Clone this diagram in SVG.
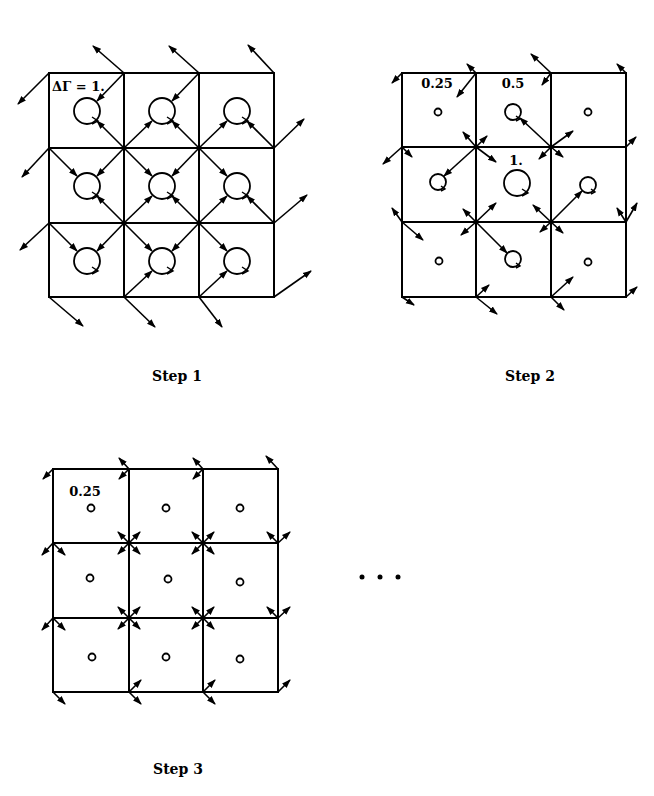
<svg xmlns="http://www.w3.org/2000/svg" width="654" height="796" viewBox="0 0 654 796">
<style>
.g{fill:none;stroke:#000;stroke-width:2}
.a line{stroke:#000;stroke-width:1.6;marker-end:url(#h)}
.c{fill:none;stroke:#000;stroke-width:1.8}
.t{font-family:"DejaVu Serif","Liberation Serif",serif;font-weight:bold;font-size:13px;fill:#000}
.s{font-family:"DejaVu Serif","Liberation Serif",serif;font-weight:bold;font-size:14px;fill:#000;text-anchor:middle}
</style>
<defs>
<marker id="h" markerUnits="userSpaceOnUse" markerWidth="10" markerHeight="8" refX="8" refY="4" orient="auto"><path d="M0,0.8 L9,4 L0,7.2 Z" fill="#000"/></marker>
</defs>
<rect width="654" height="796" fill="#fff"/>

<g id="step1">
<path class="g" d="M49,73H274V297H49Z M124,73V297 M199,73V297 M49,148H274 M49,223H274"/>
<g class="c">
<circle cx="87" cy="111" r="13"/><circle cx="162" cy="111" r="13"/><circle cx="237" cy="111" r="13"/>
<circle cx="87" cy="186" r="13"/><circle cx="162" cy="186" r="13"/><circle cx="237" cy="186" r="13"/>
<circle cx="87" cy="261" r="13"/><circle cx="162" cy="261" r="13"/><circle cx="237" cy="261" r="13"/>
<path stroke-width="1.4" d="M92,117l6,4l-6,3M167,117l6,4l-6,3M242,117l6,4l-6,3M92,192l6,4l-6,3M167,192l6,4l-6,3M242,192l6,4l-6,3M92,267l6,4l-6,3M167,267l6,4l-6,3M242,267l6,4l-6,3"/>
</g>
<text class="t" x="52" y="91">ΔΓ = 1.</text>
<g class="a">
<line x1="124" y1="73" x2="93" y2="46"/><line x1="199" y1="73" x2="169" y2="46"/><line x1="274" y1="73" x2="248" y2="45"/><line x1="49" y1="73" x2="18" y2="104"/>
<line x1="49" y1="148" x2="22" y2="177"/><line x1="49" y1="223" x2="20" y2="250"/>
<line x1="274" y1="148" x2="304" y2="119"/><line x1="274" y1="223" x2="307" y2="195"/><line x1="274" y1="297" x2="311" y2="271"/>
<line x1="49" y1="297" x2="83" y2="326"/><line x1="124" y1="297" x2="155" y2="327"/><line x1="199" y1="297" x2="222" y2="327"/>
<line x1="124" y1="73" x2="97" y2="101"/><line x1="124" y1="148" x2="97" y2="121"/>
<line x1="199" y1="73" x2="172" y2="101"/><line x1="124" y1="148" x2="152" y2="121"/><line x1="199" y1="148" x2="172" y2="121"/>
<line x1="199" y1="148" x2="227" y2="121"/><line x1="274" y1="148" x2="247" y2="121"/>
<line x1="49" y1="148" x2="77" y2="176"/><line x1="124" y1="148" x2="97" y2="176"/><line x1="124" y1="223" x2="97" y2="196"/>
<line x1="124" y1="148" x2="152" y2="176"/><line x1="199" y1="148" x2="172" y2="176"/><line x1="124" y1="223" x2="152" y2="196"/><line x1="199" y1="223" x2="172" y2="196"/>
<line x1="199" y1="148" x2="227" y2="176"/><line x1="199" y1="223" x2="227" y2="196"/><line x1="274" y1="223" x2="247" y2="196"/>
<line x1="49" y1="223" x2="77" y2="251"/><line x1="124" y1="223" x2="97" y2="251"/>
<line x1="124" y1="223" x2="152" y2="251"/><line x1="199" y1="223" x2="172" y2="251"/><line x1="124" y1="297" x2="152" y2="271"/>
<line x1="199" y1="223" x2="227" y2="251"/><line x1="199" y1="297" x2="227" y2="271"/>
</g>
<text class="s" x="177" y="381">Step 1</text>
</g>

<g id="step2">
<path class="g" d="M402,73H626V297H402Z M476,73V297 M551,73V297 M402,147H626 M402,222H626"/>
<g class="c">
<circle cx="438" cy="112" r="3.5"/><circle cx="513" cy="112" r="8"/><circle cx="588" cy="112" r="3.5"/>
<circle cx="438" cy="182" r="8"/><circle cx="517" cy="183" r="13"/><circle cx="588" cy="185" r="8"/>
<circle cx="439" cy="261" r="3.5"/><circle cx="513" cy="259" r="8"/><circle cx="588" cy="262" r="3.5"/>
<path stroke-width="1.4" d="M522,189l6,4l-6,3M516,116l4,3l-4,2M441,186l4,3l-4,2M591,189l4,3l-4,2M516,263l4,3l-4,2"/>
</g>
<text class="t" x="437" y="88" text-anchor="middle">0.25</text>
<text class="t" x="513" y="88" text-anchor="middle">0.5</text>
<text class="t" x="516" y="165" text-anchor="middle">1.</text>
<g class="a">
<line x1="402" y1="73" x2="392" y2="83"/>
<line x1="476" y1="73" x2="467" y2="64"/><line x1="476" y1="73" x2="457" y2="97"/>
<line x1="551" y1="73" x2="531" y2="54"/><line x1="551" y1="73" x2="542" y2="85"/>
<line x1="626" y1="73" x2="617" y2="64"/>
<line x1="476" y1="147" x2="463" y2="132"/><line x1="476" y1="147" x2="487" y2="136"/><line x1="476" y1="147" x2="444" y2="176"/><line x1="476" y1="147" x2="496" y2="162"/>
<line x1="551" y1="147" x2="520" y2="118"/><line x1="551" y1="147" x2="573" y2="131"/><line x1="551" y1="147" x2="539" y2="159"/><line x1="551" y1="147" x2="563" y2="157"/>
<line x1="402" y1="147" x2="383" y2="164"/><line x1="402" y1="147" x2="412" y2="157"/>
<line x1="626" y1="147" x2="636" y2="137"/>
<line x1="476" y1="222" x2="463" y2="209"/><line x1="476" y1="222" x2="496" y2="203"/><line x1="476" y1="222" x2="461" y2="235"/><line x1="476" y1="222" x2="507" y2="253"/>
<line x1="551" y1="222" x2="533" y2="205"/><line x1="551" y1="222" x2="582" y2="191"/><line x1="551" y1="222" x2="540" y2="232"/><line x1="551" y1="222" x2="563" y2="233"/>
<line x1="402" y1="222" x2="392" y2="208"/><line x1="402" y1="222" x2="423" y2="240"/>
<line x1="626" y1="222" x2="617" y2="208"/><line x1="626" y1="222" x2="637" y2="203"/>
<line x1="402" y1="297" x2="414" y2="305"/>
<line x1="476" y1="297" x2="489" y2="285"/><line x1="476" y1="297" x2="497" y2="314"/>
<line x1="551" y1="297" x2="573" y2="277"/><line x1="551" y1="297" x2="564" y2="310"/>
<line x1="626" y1="297" x2="637" y2="287"/>
</g>
<text class="s" x="530" y="381">Step 2</text>
</g>

<g id="step3">
<path class="g" d="M53,469H278V692H53Z M129,469V692 M203,469V692 M53,543H278 M53,618H278"/>
<g class="c">
<circle cx="91" cy="508" r="3.5"/><circle cx="166" cy="508" r="3.5"/><circle cx="240" cy="508" r="3.5"/>
<circle cx="90" cy="578" r="3.5"/><circle cx="168" cy="579" r="3.5"/><circle cx="240" cy="582" r="3.5"/>
<circle cx="92" cy="657" r="3.5"/><circle cx="166" cy="657" r="3.5"/><circle cx="240" cy="659" r="3.5"/>
</g>
<text class="t" x="85" y="496" text-anchor="middle">0.25</text>
<g class="a">
<line x1="53" y1="469" x2="43" y2="479"/>
<line x1="129" y1="469" x2="119" y2="458"/><line x1="129" y1="469" x2="119" y2="479"/>
<line x1="203" y1="469" x2="193" y2="458"/><line x1="203" y1="469" x2="193" y2="479"/>
<line x1="278" y1="469" x2="266" y2="456"/>
<line x1="129" y1="543" x2="118" y2="532"/><line x1="129" y1="543" x2="140" y2="532"/><line x1="129" y1="543" x2="118" y2="554"/><line x1="129" y1="543" x2="140" y2="554"/>
<line x1="203" y1="543" x2="192" y2="532"/><line x1="203" y1="543" x2="214" y2="532"/><line x1="203" y1="543" x2="192" y2="554"/><line x1="203" y1="543" x2="214" y2="554"/>
<line x1="129" y1="618" x2="118" y2="607"/><line x1="129" y1="618" x2="140" y2="607"/><line x1="129" y1="618" x2="118" y2="629"/><line x1="129" y1="618" x2="140" y2="629"/>
<line x1="203" y1="618" x2="192" y2="607"/><line x1="203" y1="618" x2="214" y2="607"/><line x1="203" y1="618" x2="192" y2="629"/><line x1="203" y1="618" x2="214" y2="629"/>
<line x1="53" y1="543" x2="42" y2="555"/><line x1="53" y1="543" x2="65" y2="555"/>
<line x1="53" y1="618" x2="42" y2="630"/><line x1="53" y1="618" x2="65" y2="630"/>
<line x1="278" y1="543" x2="267" y2="532"/><line x1="278" y1="543" x2="290" y2="532"/>
<line x1="278" y1="618" x2="267" y2="607"/><line x1="278" y1="618" x2="290" y2="607"/>
<line x1="53" y1="692" x2="65" y2="704"/>
<line x1="129" y1="692" x2="141" y2="680"/><line x1="129" y1="692" x2="141" y2="704"/>
<line x1="203" y1="692" x2="215" y2="680"/><line x1="203" y1="692" x2="215" y2="704"/>
<line x1="278" y1="692" x2="290" y2="680"/>
</g>
<text class="s" x="178" y="774">Step 3</text>
</g>

<g id="ellipsis" fill="#000"><circle cx="362" cy="577" r="2.5"/><circle cx="380" cy="577" r="2.5"/><circle cx="398" cy="577" r="2.5"/></g>
</svg>
